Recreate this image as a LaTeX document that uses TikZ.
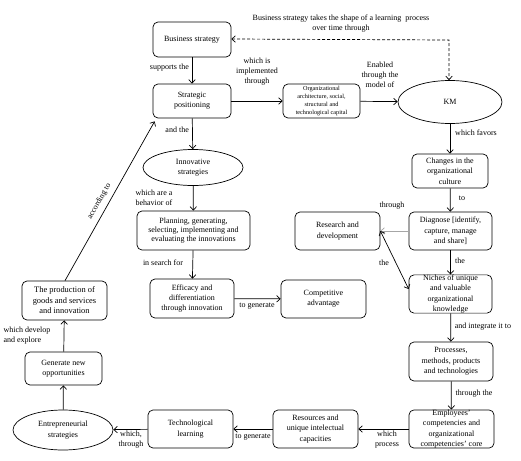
\documentclass[tikz,border=0pt]{standalone}
\usepackage{fontspec}
\setmainfont{Liberation Serif}
\usetikzlibrary{arrows.meta,shapes.geometric}
\begin{document}
\begin{tikzpicture}[x=1pt,y=-1pt,
  box/.style={draw,rounded corners=5pt,align=center,inner sep=1pt,line width=0.7pt,font=\fontsize{8}{10.3}\selectfont},
  oval/.style={draw,ellipse,align=center,inner sep=0pt,line width=0.7pt,font=\fontsize{8}{10.3}\selectfont},
  arr/.style={-{Straight Barb[length=3.5pt,width=6.5pt]},line width=0.7pt},
  darr/.style={{Straight Barb[length=3.5pt,width=6.5pt]}-{Straight Barb[length=3.5pt,width=6.5pt]},line width=0.7pt},
  lbl/.style={font=\fontsize{8}{10}\selectfont,inner sep=0pt,align=center}]
\useasboundingbox (0,0) rectangle (521,460);

% nodes
\node[box,minimum width=78pt,minimum height=35pt] (bs) at (192,39.5) {Business strategy};
\node[box,minimum width=78pt,minimum height=34pt] (sp) at (192,101) {Strategic\\positioning};
\node[box,minimum width=77pt,minimum height=34pt,font=\fontsize{6.2}{8.2}\selectfont] (org) at (321.5,101) {Organizational\\architecture, social,\\structural and\\technological capital};
\node[oval,minimum width=104pt,minimum height=43pt] (km) at (450,102) {KM};
\node[oval,minimum width=100pt,minimum height=36pt] (inn) at (193,167.5) {Innovative\\strategies};
\node[box,minimum width=113pt,minimum height=39pt,font=\fontsize{8}{9}\selectfont] (plan) at (193.5,230.5) {Planning, generating,\\selecting, implementing and\\evaluating the innovations};
\node[box,minimum width=84pt,minimum height=39pt] (eff) at (192,298.5) {Efficacy and\\differentiation\\through innovation};
\node[box,minimum width=85pt,minimum height=38pt] (comp) at (323.5,299) {Competitive\\advantage};
\node[box,minimum width=76pt,minimum height=34pt] (chg) at (450,171) {Changes in the\\organizational\\culture};
\node[box,minimum width=85pt,minimum height=38pt] (rd) at (337.5,231) {Research and\\development};
\node[box,minimum width=83pt,minimum height=38pt] (diag) at (450.5,231) {Diagnose [identify,\\capture, manage\\and share]};
\node[box,minimum width=83pt,minimum height=38pt,inner sep=0pt] (niche) at (450.5,294) {Niches of unique\\and valuable\\organizational\\knowledge};
\node[box,minimum width=84pt,minimum height=39pt] (proc) at (451,361.5) {Processes,\\methods, products\\and technologies};
\node[box,minimum width=85pt,minimum height=38pt,inner sep=0pt] (emp) at (451.5,429) {Employees'\\competencies and\\organizational\\competencies' core};
\node[box,minimum width=85pt,minimum height=38pt] (res) at (315.5,429) {Resources and\\unique intelectual\\capacities};
\node[box,minimum width=85pt,minimum height=38pt] (tech) at (190.5,429) {Technological\\learning};
\node[oval,minimum width=100pt,minimum height=40pt] (ent) at (63,430) {Entrepreneurial\\strategies};
\node[box,minimum width=77pt,minimum height=33pt] (gen) at (63.5,368.5) {Generate new\\opportunities};
\node[box,minimum width=85pt,minimum height=39pt,font=\fontsize{8.4}{10.5}\selectfont] (prod) at (64.5,300.5) {The production of\\goods and services\\and innovation};

% title
\node[lbl] (title) at (341,23.5) {Business strategy takes the shape of a learning\ \ process\\over time through};

% connectors
\coordinate (kmtop) at (449,40);
\draw[darr,dash pattern=on 3pt off 2pt] ([yshift=0.5pt]bs.east) -- (kmtop) -- (km.north -| kmtop);
\draw[arr] (bs) -- (sp);
\draw[arr] (sp) -- (org);
\draw[arr] (org) -- (km);
\draw[arr] (sp) -- (inn);
\draw[arr] (inn) -- (plan);
\draw[arr] (plan) -- (eff);
\draw[arr] (eff) -- (comp);
\draw[arr] (km) -- (chg);
\draw[arr] (chg) -- (diag);
\draw[arr,draw=gray!70] (diag) -- (rd);
\draw[arr] (diag) -- (niche);
\draw[darr] (rd.east) -- ([yshift=5pt]niche.west);
\draw[arr] (niche) -- (proc);
\draw[arr] (proc) -- (emp);
\draw[arr] (emp) -- (res);
\draw[arr] (res) -- (tech);
\draw[arr] (tech) -- (ent);
\draw[arr] (ent) -- (gen);
\draw[arr] (gen) -- (prod);
\draw[arr] ([xshift=0.5pt]prod.north) -- node[lbl,sloped,above=5pt,pos=0.47]{according to} ([xshift=2pt,yshift=-3pt]sp.south west);

% labels
\node[lbl,anchor=east] (l1) at (189,68) {supports the};
\node[lbl] (l2) at (257,72) {which is\\implemented\\through};
\node[lbl] (l3) at (380,74.5) {Enabled\\through the\\model of};
\node[lbl,anchor=east] (l4) at (189,130) {and the};
\node[lbl,align=left] (l5) at (154,198) {which are a\\behavior of};
\node[lbl] (l6) at (163,263) {in search for};
\node[lbl] (l7) at (257,306) {to generate};
\node[lbl] (l8) at (476,133) {which favors};
\node[lbl] (l9) at (462,198) {to};
\node[lbl] (l10) at (392,206) {through};
\node[lbl] (l11) at (460,261) {the};
\node[lbl] (l12) at (384,263) {the};
\node[lbl] (l13) at (483,327) {and integrate it to};
\node[lbl] (l14) at (474,394) {through the};
\node[lbl] (l15) at (387,439.5) {which\\process};
\node[lbl] (l16) at (253,437) {to generate};
\node[lbl] (l17) at (131,440) {which,\\through};
\node[lbl,align=left] (l18) at (27,336) {which develop\\and explore};
\end{tikzpicture}
\end{document}
